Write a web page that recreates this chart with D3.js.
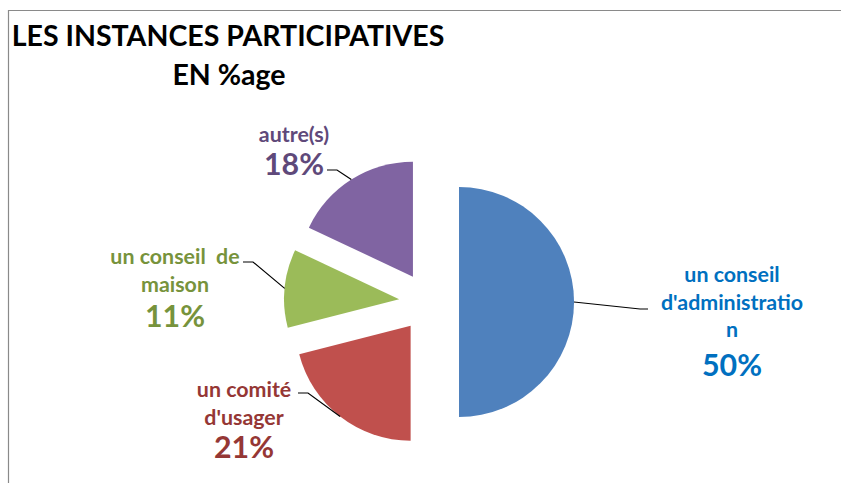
<!DOCTYPE html>
<html>
<head>
<meta charset="utf-8">
<script src="https://cdn.jsdelivr.net/npm/d3@7"></script>
<style>
  body { margin: 0; background: #fff; }
  svg { display: block; }
  text { font-family: Lato, "Open Sans", sans-serif; font-weight: bold; white-space: pre; }
</style>
</head>
<body>
<svg width="841" height="483"></svg>
<script>
// data
var categories = ["un conseil d'administration", "un comité d'usager", "un conseil de maison", "autre(s)"];
var values = [50, 21, 11, 18];
var labelLines = [["un conseil", "d'administratio", "n"], ["un comité", "d'usager"], ["un conseil  de", "maison"], ["autre(s)"]];
var percentLabels = ["50%", "21%", "11%", "18%"];
var titleLines = ["LES INSTANCES PARTICIPATIVES", "EN %age"];

var sliceColors = ["#4f81bd", "#c0504d", "#9bbb59", "#8064a2"];
var textColors = ["#0070c0", "#953735", "#77933c", "#5f497a"];

// label placement (centre x, first baseline, leader start + elbow)
var labelPos = [
  {x: 732, y: 282, pct: 376, lead: [[648, 309], [640, 309]]},
  {x: 244, y: 397, pct: 458, lead: [[298, 393], [308, 393]]},
  {x: 175, y: 264, pct: 327, lead: [[243, 262], [253, 262]]},
  {x: 294, y: 142, pct: 175, lead: [[327, 170], [337, 170]]}
];

var svg = d3.select("svg");
var cx = 429, cy = 302, radius = 115, explode = 30;

// frame (top and left edges only)
svg.append("path")
    .attr("d", "M8.5,483V10.5H841")
    .attr("fill", "none")
    .attr("stroke", "#8a8a8a")
    .attr("stroke-width", 1.2);

// title, sized so first line is ~433px wide
var title = svg.append("g");
var t1 = title.append("text")
    .attr("x", 228).attr("y", 46)
    .attr("text-anchor", "middle")
    .style("font-size", "32px")
    .text(titleLines[0]);
var fontScale = 433 / t1.node().getComputedTextLength();
t1.style("font-size", (32 * fontScale) + "px");
title.append("text")
    .attr("x", 229).attr("y", 85)
    .attr("text-anchor", "middle")
    .style("font-size", (32 * fontScale) + "px")
    .text(titleLines[1]);

var pie = d3.pie().sort(null).value(function(d) { return d; });
var arcs = pie(values);
var arc = d3.arc().innerRadius(0).outerRadius(radius);

function offset(d, r) {
  var a = (d.startAngle + d.endAngle) / 2;
  return [Math.sin(a) * r, -Math.cos(a) * r];
}

var slices = svg.append("g")
    .attr("transform", "translate(" + cx + "," + cy + ")");

slices.selectAll("path")
  .data(arcs)
  .enter().append("path")
    .attr("d", arc)
    .attr("fill", function(d, i) { return sliceColors[i]; })
    .attr("transform", function(d) { return "translate(" + offset(d, explode) + ")"; });

// leader lines, ending on the arc at mid angle
var line = d3.line();
svg.selectAll(".leader")
  .data(arcs)
  .enter().append("path")
    .attr("class", "leader")
    .attr("fill", "none")
    .attr("stroke", "#000")
    .attr("stroke-width", 1.2)
    .attr("d", function(d, i) {
      var o = offset(d, explode), p = offset(d, radius);
      var end = [cx + o[0] + p[0], cy + o[1] + p[1]];
      return line(labelPos[i].lead.concat([end]));
    });

// labels
var labels = svg.selectAll(".label")
  .data(arcs)
  .enter().append("g")
    .attr("class", "label")
    .attr("fill", function(d, i) { return textColors[i]; });

labels.each(function(d, i) {
  var g = d3.select(this), pos = labelPos[i];
  labelLines[i].forEach(function(s, k) {
    g.append("text")
        .attr("x", pos.x).attr("y", pos.y + k * 27.5)
        .attr("text-anchor", "middle")
        .style("font-size", (24 * fontScale) + "px")
        .text(s);
  });
  g.append("text")
      .attr("x", pos.x).attr("y", pos.pct)
      .attr("text-anchor", "middle")
      .style("font-size", (34 * fontScale) + "px")
      .text(percentLabels[i]);
});
</script>
</body>
</html>
